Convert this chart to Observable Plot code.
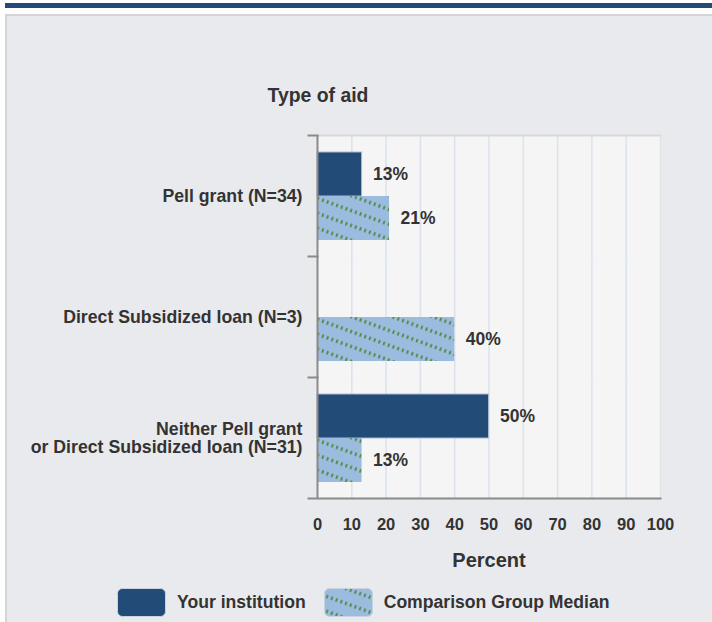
<!DOCTYPE html>
<html>
<head>
<meta charset="utf-8">
<script src="https://cdn.jsdelivr.net/npm/d3@7"></script>
<script src="https://cdn.jsdelivr.net/npm/@observablehq/plot@0.6"></script>
<style>
  html, body { margin: 0; padding: 0; background: #ffffff; }
  body { width: 712px; height: 622px; position: relative; overflow: hidden;
         font-family: "Liberation Sans", Arial, Helvetica, sans-serif; color: #333; }
  #topbar { position: absolute; left: 5px; top: 3px; width: 707px; height: 5px; background: #234b78; }
  #panel { position: absolute; left: 5px; top: 14px; width: 705px; height: 608px;
           background: #e9eaee; border-left: 2px solid #d3d4d6; border-top: 2px solid #d3d4d6; }
  #title { position: absolute; left: 218px; width: 200px; top: 84px; text-align: center;
           font-weight: bold; font-size: 19.4px; color: #333; }
  #chart { position: absolute; left: 0; top: 120px; }
  #legend { position: absolute; left: 117px; top: 588px; display: flex; align-items: center;
            font-weight: bold; font-size: 17.6px; color: #333; }
  .item { display: flex; align-items: center; margin-right: 18px; }
  .item svg { margin-right: 11px; display: block; }
</style>
</head>
<body>
<div id="topbar"></div>
<div id="panel"></div>
<div id="title">Type of aid</div>
<div id="chart"></div>
<div id="legend"></div>
<script>
// ---- data ----
const categories = [
  "Pell grant (N=34)",
  "Direct Subsidized loan (N=3)",
  "Neither Pell grant\nor Direct Subsidized loan (N=31)"
];
const series = ["Your institution", "Comparison Group Median"];
const yourInstitution = [13, null, 50];
const comparisonMedian = [21, 40, 13];
const xTicks = [0, 10, 20, 30, 40, 50, 60, 70, 80, 90, 100];

// ---- styles ----
const darkBlue = "#234b78";
const lightBlue = "#9bbcdf";
const green = "#4b8a3c";
const textColor = "#333333";
const font = "'Liberation Sans', Arial, Helvetica, sans-serif";

const rows = [];
categories.forEach((c, i) => {
  rows.push({category: c, series: series[0], value: yourInstitution[i]});
  rows.push({category: c, series: series[1], value: comparisonMedian[i]});
});
const valid = rows.filter(d => d.value != null);

const patternDef = id => `
  <pattern id="${id}" patternUnits="userSpaceOnUse" width="15" height="14" patternTransform="rotate(20)">
    <rect width="15" height="14" fill="${lightBlue}"/>
    <line x1="0" y1="7" x2="15" y2="7" stroke="${green}" stroke-width="3.6" stroke-dasharray="1.8 3.2"/>
  </pattern>`;

const plot = Plot.plot({
  width: 712,
  height: 450,
  marginLeft: 317,
  marginRight: 52,
  marginTop: 15,
  marginBottom: 72,
  style: {fontFamily: font, color: textColor, background: "transparent", overflow: "visible"},
  x: {domain: [0, 100], axis: null},
  y: {domain: series, axis: null, paddingInner: 0, paddingOuter: 0.375},
  fy: {domain: categories, axis: null, padding: 0},
  marks: [
    Plot.frame({fill: "#f5f5f5", stroke: null}),
    Plot.gridX(xTicks.filter(t => t > 0), {stroke: "#dbe2ec", strokeOpacity: 1, strokeWidth: 1.5}),
    Plot.frame({anchor: "top", facet: "super", stroke: "#d9d9d9", strokeWidth: 2}),
    Plot.frame({anchor: "right", facet: "super", stroke: "#e3e3e3", strokeWidth: 1}),
    Plot.barX(valid.filter(d => d.series === series[0]), {
      x: "value", y: "series", fy: "category", fill: darkBlue, stroke: "#a9bad0", strokeWidth: 1
    }),
    Plot.barX(valid.filter(d => d.series === series[1]), {
      x: "value", y: "series", fy: "category", fill: "url(#hatch)"
    }),
    Plot.ruleX([0], {stroke: "#8a8a8a", strokeWidth: 2}),
    Plot.frame({anchor: "top", insetLeft: -9, insetRight: 343, stroke: "#8a8a8a", strokeWidth: 2}),
    Plot.frame({anchor: "bottom", facet: "super", insetLeft: -9, stroke: "#8a8a8a", strokeWidth: 2}),
    Plot.text(valid, {
      x: "value", y: "series", fy: "category", text: d => d.value + "%",
      dx: 11, textAnchor: "start", fontWeight: "bold", fontSize: 17.5, fill: textColor
    }),
    Plot.text(categories, {
      fy: d => d, text: d => d, frameAnchor: "left", dx: -15, textAnchor: "end",
      fontWeight: "bold", fontSize: 17.7, lineHeight: 1.03, fill: textColor
    }),
    Plot.axisX(xTicks, {
      anchor: "bottom", tickSize: 0, tickPadding: 20, fontSize: 16.5, fontWeight: "bold",
      fill: textColor, label: "Percent", labelAnchor: "center", labelArrow: "none",
      labelOffset: 68
    })
  ]
});

const svg = d3.select(plot);
svg.insert("defs", ":first-child").html(patternDef("hatch"));
svg.selectAll("[aria-label='x-axis label'] text, [aria-label='x-axis label']")
  .attr("font-size", 20).attr("font-weight", "bold");
document.getElementById("chart").appendChild(plot);

// ---- legend ----
const legend = d3.select("#legend");
const swatch = (item, fill, id) => {
  const s = item.append("svg").attr("width", 49).attr("height", 29);
  if (id) s.append("defs").html(patternDef(id));
  s.append("rect").attr("x", 0.5).attr("y", 0.5).attr("width", 48).attr("height", 28)
    .attr("rx", 5).attr("fill", id ? `url(#${id})` : fill).attr("stroke", "#c9d3df").attr("stroke-width", 1);
};
series.forEach((name, i) => {
  const item = legend.append("div").attr("class", "item");
  swatch(item, darkBlue, i === 1 ? "hatchLegend" : null);
  item.append("span").text(name);
});
</script>
</body>
</html>
